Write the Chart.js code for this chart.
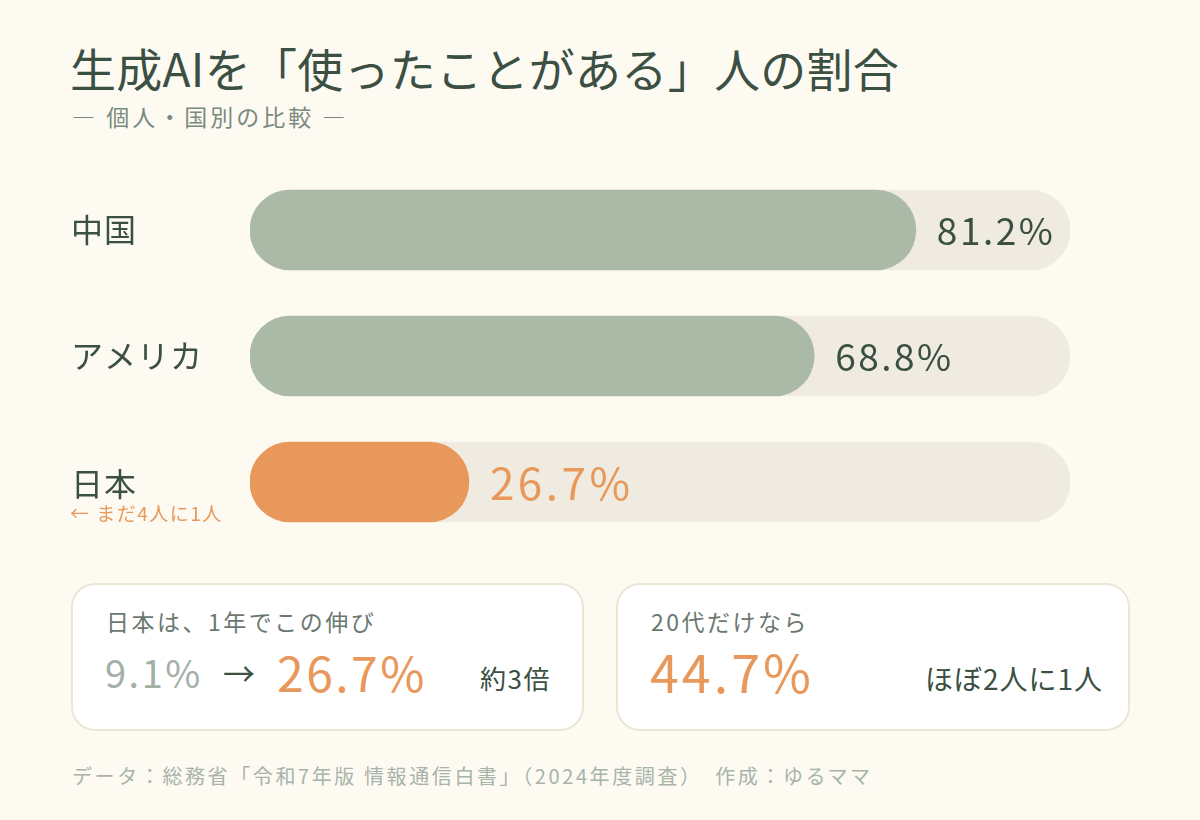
<!DOCTYPE html>
<html lang="ja">
<head>
<meta charset="utf-8">
<script src="https://cdn.jsdelivr.net/npm/chart.js@4"></script>
<style>
  body { margin: 0; background: #fdfaf2; font-family: "Noto Sans CJK JP", "Noto Sans", sans-serif; }
  #page { position: relative; width: 1200px; height: 820px; overflow: hidden; }
  .title { position: absolute; left: 70px; top: 34px; font-size: 46px; color: #3b4f42; letter-spacing: 0.3px; white-space: nowrap; }
  .subtitle { position: absolute; left: 72px; top: 99px; font-size: 23px; color: #7b8a80; letter-spacing: 3px; white-space: nowrap; }
  #wrap { position: absolute; left: 0; top: 167px; width: 1200px; height: 378px; }
  .card { position: absolute; top: 583px; height: 148px; background: #fff; border: 2px solid #ece6d6; border-radius: 24px; box-sizing: border-box; }
  .card .head { position: absolute; left: 33px; top: 19px; font-size: 23px; color: #6b7870; letter-spacing: 2.5px; white-space: nowrap; }
  .card .big { position: absolute; white-space: nowrap; }
  .footer { position: absolute; left: 72px; top: 761px; font-size: 20px; color: #a8b3aa; white-space: pre; letter-spacing: 2.6px; }
</style>
</head>
<body>
<div id="page">
  <div class="title">生成AIを「使ったことがある」人の割合</div>
  <div class="subtitle">— 個人・国別の比較 —</div>
  <div id="wrap"><canvas id="graficoUso"></canvas></div>

  <div class="card" style="left:71px; width:513px;">
    <div class="head">日本は、1年でこの伸び</div>
    <div class="big" style="left:32px; top:59px; font-size:38px; color:#a3b0a6; letter-spacing:2.5px;">9.1%</div>
    <div class="big" style="left:150px; top:64px; font-size:32px; color:#3b4f42;">→</div>
    <div class="big" style="left:204px; top:51px; font-size:48px; color:#e8985a; letter-spacing:2.5px;">26.7%</div>
    <div class="big" style="left:407px; top:74px; font-size:26px; color:#3b4f42; letter-spacing:1.5px;">約3倍</div>
  </div>
  <div class="card" style="left:616px; width:514px;">
    <div class="head">20代だけなら</div>
    <div class="big" style="left:32px; top:48px; font-size:52px; color:#e8985a; letter-spacing:3px;">44.7%</div>
    <div class="big" style="left:307px; top:73px; font-size:28px; color:#3b4f42; letter-spacing:1px;">ほぼ2人に1人</div>
  </div>

  <div class="footer">データ：総務省「令和7年版 情報通信白書」（2024年度調査）　作成：ゆるママ</div>
</div>

<script>
const paises = ["中国", "アメリカ", "日本"];
const taxaUso = [81.2, 68.8, 26.7];
const trilha = [100, 100, 100];
const notas = ["", "", "← まだ4人に1人"];

const corVerde = "#aabaa7";
const corLaranja = "#e8985a";
const corTrilha = "#f0ebe1";
const corTexto = "#3b4f42";
const fonte = '"Noto Sans CJK JP", "Noto Sans", sans-serif';

// rótulos da esquerda e valores no fim da barra
const rotulos = {
    id: "rotulos",
    afterDatasetsDraw(chart) {
        const ctx = chart.ctx;
        const meta = chart.getDatasetMeta(0);
        ctx.save();
        ctx.textBaseline = "middle";
        meta.data.forEach((bar, i) => {
            const destaque = i === paises.length - 1;
            ctx.textAlign = "left";
            ctx.fillStyle = corTexto;
            ctx.letterSpacing = "1px";
            ctx.font = `32px ${fonte}`;
            ctx.fillText(paises[i], 71, destaque ? bar.y + 2 : bar.y);
            if (notas[i]) {
                ctx.fillStyle = corLaranja;
                ctx.letterSpacing = "1.5px";
                ctx.font = `19px ${fonte}`;
                ctx.fillText(notas[i], 70, bar.y + 32);
            }
            ctx.fillStyle = destaque ? corLaranja : corTexto;
            ctx.letterSpacing = destaque ? "3.5px" : "2.5px";
            ctx.font = destaque ? `44px ${fonte}` : `37px ${fonte}`;
            ctx.fillText(`${taxaUso[i]}%`, bar.x + 21, bar.y + 1);
        });
        ctx.restore();
    }
};

const ctx = document.getElementById("graficoUso").getContext("2d");
window.graficoUso = new Chart(ctx, {
    type: "bar",
    data: {
        labels: paises,
        datasets: [{
            label: "使ったことがある",
            data: taxaUso,
            backgroundColor: paises.map((p, i) => i === paises.length - 1 ? corLaranja : corVerde),
            borderRadius: 40,
            borderSkipped: false,
            barThickness: 80,
            grouped: false,
            order: 0
        }, {
            label: "trilha",
            data: trilha,
            backgroundColor: corTrilha,
            borderRadius: 40,
            borderSkipped: false,
            barThickness: 80,
            grouped: false,
            order: 1
        }]
    },
    options: {
        indexAxis: "y",
        responsive: true,
        maintainAspectRatio: false,
        animation: false,
        layout: { padding: { left: 250, right: 130, top: 0, bottom: 0 } },
        plugins: {
            legend: { display: false },
            tooltip: { enabled: false }
        },
        scales: {
            x: { min: 0, max: 100, display: false },
            y: { display: false }
        }
    },
    plugins: [rotulos]
});
</script>
</body>
</html>
